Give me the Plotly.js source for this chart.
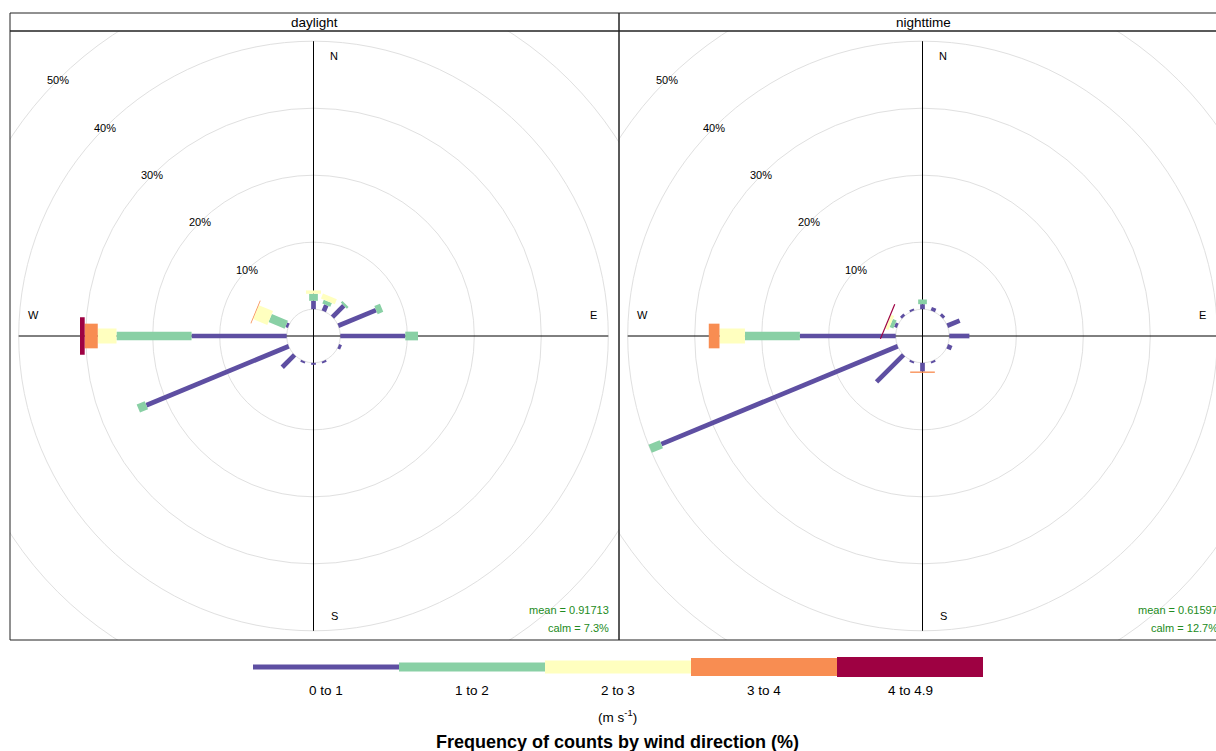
<!DOCTYPE html>
<html><head><meta charset="utf-8">
<script src="https://cdn.plot.ly/plotly-3.0.1.min.js"></script>
<style>html,body{margin:0;padding:0;overflow:hidden;background:#fff;} #chart{width:1229px;height:751px;}</style>
</head><body><div id="chart"></div>
<script>
// ---------------- data ----------------
const directions = [0, 22.5, 45, 67.5, 90, 112.5, 135, 157.5, 180, 202.5, 225, 247.5, 270, 292.5, 315, 337.5];
const speedBins = ['0 to 1', '1 to 2', '2 to 3', '3 to 4', '4 to 4.9'];
const panelNames = ['daylight', 'nighttime'];
const gridLevels = [10, 20, 30, 40, 50];
const gridLabels = ['10%', '20%', '30%', '40%', '50%'];
const cardinalLabels = ['N', 'E', 'S', 'W'];
const meanLabels = ['mean = 0.91713', 'mean = 0.61597'];
const calmLabels = ['calm = 7.3%', 'calm = 12.7%'];
const unitsLabel = '(m s<sup>-1</sup>)';
const keyTitle = 'Frequency of counts by wind direction (%)';

// frequency (%) by direction, one array per speed interval
const day_0to1   = [1.25, 1.0, 2.4, 6.1, 9.7, 0.45, 0, 0.3, 0.3, 0.3, 2.6, 23.0, 14.2, 0.4, 0, 0];
const day_1to2   = [1.05, 0.6, 0.35, 0.9, 1.9, 0, 0, 0, 0, 0, 0, 1.3, 11.2, 2.6, 0, 0];
const day_2to3   = [0.5, 0.8, 0.1, 0, 0, 0, 0, 0, 0, 0, 0, 0, 2.8, 2.3, 0, 0];
const day_3to4   = [0, 0, 0, 0, 0, 0, 0, 0, 0, 0, 0, 0, 1.95, 0.12, 0, 0];
const day_4to49  = [0, 0, 0, 0, 0, 0, 0, 0, 0, 0, 0, 0, 0.7, 0, 0, 0];

const night_0to1  = [0.75, 0.55, 0.45, 2.0, 3.0, 0.7, 0, 0.3, 1.3, 0.3, 5.7, 38.2, 14.3, 0.45, 0.4, 0.3];
const night_1to2  = [0.7, 0, 0, 0, 0.1, 0, 0, 0, 0, 0, 0, 1.8, 8.2, 0.6, 0, 0];
const night_2to3  = [0, 0, 0, 0, 0, 0, 0, 0, 0, 0, 0, 0, 3.8, 0.5, 0, 0];
const night_3to4  = [0, 0, 0, 0, 0, 0, 0, 0, 0.2, 0, 0, 0, 1.6, 0, 0, 0];
const night_4to49 = [0, 0, 0, 0, 0, 0, 0, 0, 0, 0, 0, 0, 0, 0.18, 0, 0];

const panelFreq = [
  [day_0to1, day_1to2, day_2to3, day_3to4, day_4to49],
  [night_0to1, night_1to2, night_2to3, night_3to4, night_4to49]
];

// ---------------- styles ----------------
const W = 1229, H = 751;
const binColors = ['#5E4FA2', '#89D0A5', '#FFFFBF', '#F88D52', '#9E0142'];
const paddleHalfWidth = [0.35, 0.65, 1.12, 1.84, 2.8];
const keyHeights = [5, 9, 13, 18, 20];
const PX = 6.7;                       // pixels per % unit
const panelRects = [[10, 619], [619, 1228]];
const panelTop = 31, panelBottom = 640, stripTop = 13;
const FONT = 'Liberation Sans, Arial, sans-serif';

// ---------------- derived ----------------
let maxFreq = 0;
panelFreq.forEach(p => directions.forEach((d, j) => {
  let t = 0; p.forEach(b => t += b[j]); if (t > maxFreq) maxFreq = t;
}));
const OFF = 0.1 * maxFreq;
const MYMAX = maxFreq + OFF;

const traces = [];
const shapes = [];
const annotations = [];
const layout = {
  width: W, height: H, margin: {l: 0, r: 0, t: 0, b: 0},
  paper_bgcolor: '#fff', plot_bgcolor: 'rgba(0,0,0,0)', showlegend: false,
  font: {family: FONT, color: '#000'}
};
const rad = Math.PI / 180;

panelNames.forEach((name, p) => {
  const xa = p === 0 ? 'x' : 'x2', ya = p === 0 ? 'y' : 'y2';
  const [left, right] = panelRects[p];
  const cx = (left + right) / 2 - 1, cy = 336;
  const axStyle = {visible: false, showgrid: false, zeroline: false, fixedrange: true};
  layout[p === 0 ? 'xaxis' : 'xaxis2'] = Object.assign({}, axStyle, {
    domain: [left / W, right / W], range: [(left - cx) / PX, (right - cx) / PX], anchor: ya
  });
  layout[p === 0 ? 'yaxis' : 'yaxis2'] = Object.assign({}, axStyle, {
    domain: [1 - panelBottom / H, 1 - panelTop / H], range: [(cy - panelBottom) / PX, (cy - panelTop) / PX], anchor: xa
  });

  // grid circles (calm circle + levels)
  [0].concat(gridLevels).forEach(L => {
    const r = OFF + L;
    shapes.push({type: 'circle', xref: xa, yref: ya, x0: -r, x1: r, y0: -r, y1: r,
      line: {color: '#e0e0e0', width: 1}, layer: 'below'});
  });
  // axis cross
  traces.push({type: 'scatter', mode: 'lines', xaxis: xa, yaxis: ya, hoverinfo: 'skip',
    x: [-MYMAX, MYMAX], y: [0, 0], line: {color: '#000', width: 1}});
  traces.push({type: 'scatter', mode: 'lines', xaxis: xa, yaxis: ya, hoverinfo: 'skip',
    x: [0, 0], y: [-MYMAX, MYMAX], line: {color: '#000', width: 1}});

  // paddles
  const bins = panelFreq[p];
  directions.forEach((d, j) => {
    const th = d * rad, s = Math.sin(th), c = Math.cos(th);
    let cum = 0;
    bins.forEach((b, i) => {
      const v = b[j];
      if (v <= 0) return;
      const r0 = OFF + cum, r1 = OFF + cum + v, hw = paddleHalfWidth[i];
      cum += v;
      traces.push({type: 'scatter', mode: 'lines', xaxis: xa, yaxis: ya, hoverinfo: 'skip',
        fill: 'toself', fillcolor: binColors[i], line: {width: 0, color: binColors[i]},
        x: [r0 * s - hw * c, r0 * s + hw * c, r1 * s + hw * c, r1 * s - hw * c, r0 * s - hw * c],
        y: [r0 * c + hw * s, r0 * c - hw * s, r1 * c - hw * s, r1 * c + hw * s, r0 * c + hw * s]});
    });
  });

  // grid labels at 315 degrees
  gridLevels.forEach((L, k) => {
    const r = OFF + L;
    annotations.push({xref: xa, yref: ya, x: -r * Math.sin(45 * rad), y: r * Math.cos(45 * rad),
      text: gridLabels[k], showarrow: false, xanchor: 'center', yanchor: 'middle',
      font: {size: 11, color: '#000', family: FONT}});
  });
  // cardinal labels
  const cpos = [[0.07, 0.95], [0.95, 0.07], [0.07, -0.95], [-0.95, 0.07]];
  cardinalLabels.forEach((t, k) => {
    annotations.push({xref: xa, yref: ya, x: cpos[k][0] * MYMAX, y: cpos[k][1] * MYMAX,
      text: t, showarrow: false, xanchor: 'center', yanchor: 'middle',
      font: {size: 11, color: '#000', family: FONT}});
  });
  // mean / calm
  annotations.push({xref: xa, yref: ya, x: MYMAX, y: -MYMAX, xshift: 3, yshift: -5, text: calmLabels[p], showarrow: false,
    xanchor: 'right', yanchor: 'bottom', font: {size: 11, color: '#228B22', family: FONT}});
  annotations.push({xref: xa, yref: ya, x: MYMAX, y: -MYMAX, xshift: 3, yshift: 13, text: meanLabels[p], showarrow: false,
    xanchor: 'right', yanchor: 'bottom', font: {size: 11, color: '#228B22', family: FONT}});

  // strip
  shapes.push({type: 'rect', xref: 'paper', yref: 'paper', x0: left / W, x1: right / W,
    y0: 1 - panelTop / H, y1: 1 - stripTop / H, line: {color: '#222', width: 1}, fillcolor: 'rgba(0,0,0,0)', layer: 'above'});
  shapes.push({type: 'rect', xref: 'paper', yref: 'paper', x0: left / W, x1: right / W,
    y0: 1 - panelBottom / H, y1: 1 - panelTop / H, line: {color: '#222', width: 1}, fillcolor: 'rgba(0,0,0,0)', layer: 'above'});
  annotations.push({xref: 'paper', yref: 'paper', x: (left + right) / 2 / W, y: 1 - (stripTop + panelTop) / 2 / H,
    text: name, showarrow: false, xanchor: 'center', yanchor: 'middle', font: {size: 13.5, color: '#000', family: FONT}});
});

// ---------------- key ----------------
const keyLeft = 253, keyStep = 146, keyY = 667;
speedBins.forEach((lab, i) => {
  const x0 = keyLeft + i * keyStep, x1 = x0 + keyStep, h = keyHeights[i];
  shapes.push({type: 'rect', xref: 'paper', yref: 'paper', x0: x0 / W, x1: x1 / W,
    y0: 1 - (keyY + h / 2) / H, y1: 1 - (keyY - h / 2) / H, fillcolor: binColors[i], line: {width: 0}});
  annotations.push({xref: 'paper', yref: 'paper', x: (x0 + x1) / 2 / W, y: 1 - 690 / H, text: lab,
    showarrow: false, xanchor: 'center', yanchor: 'middle', font: {size: 13.5, color: '#000', family: FONT}});
});
annotations.push({xref: 'paper', yref: 'paper', x: (keyLeft + 2.5 * keyStep) / W, y: 1 - 716 / H, text: unitsLabel,
  showarrow: false, xanchor: 'center', yanchor: 'middle', font: {size: 13.5, color: '#000', family: FONT}});
annotations.push({xref: 'paper', yref: 'paper', x: (keyLeft + 2.5 * keyStep) / W, y: 1 - 742 / H, text: '<b>' + keyTitle + '</b>',
  showarrow: false, xanchor: 'center', yanchor: 'middle', font: {size: 18, color: '#000', family: FONT}});

layout.shapes = shapes;
layout.annotations = annotations;
Plotly.newPlot('chart', traces, layout, {displayModeBar: false, staticPlot: true});
</script></body></html>
